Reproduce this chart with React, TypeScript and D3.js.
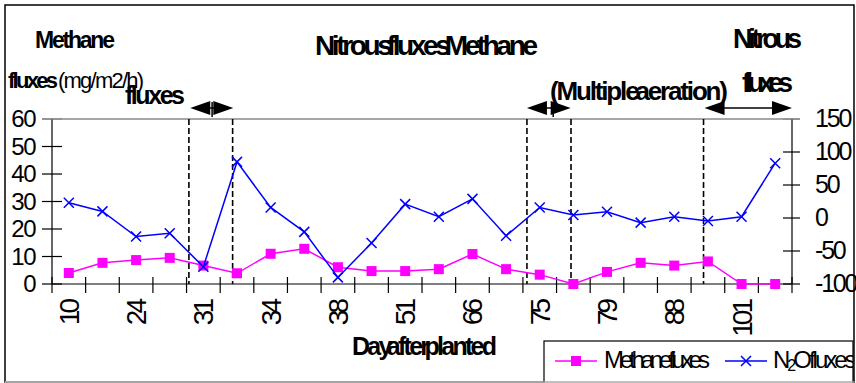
import React from 'react';
import * as d3 from 'd3';

const W = 856;
const H = 383;

// 22 sampling points (only every other one labelled on the axis)
const pointCount = 22;
const dayLabels = ["10", "24", "31", "34", "38", "51", "66", "75", "79", "88", "101"];
const methaneFlux = [4, 7.7, 8.7, 9.5, 6.7, 3.9, 11, 12.8, 6.1, 4.7, 4.7, 5.4, 10.9, 5.4, 3.4, 0, 4.4, 7.7, 6.7, 8.2, 0, 0];
const n2oFlux = [23, 10, -28, -23, -74, 85, 16, -21, -90, -38, 21, 2, 29, -27, 16, 4.5, 9.6, -7, 2, -4.5, 2, 83];
const leftTicks = [0, 10, 20, 30, 40, 50, 60];
const rightTicks = [-100, -50, 0, 50, 100, 150];
// annotation positions in point-index units
const phaseLines = [4.07, 5.37, 14.12, 15.43, 19.37];
const arrowFrom = [4.11, 14.12, 19.4];
const arrowTo = [5.39, 15.42, 22.0];
const arrowMid = [4.76, 14.9, -1];

const FONT = '"Liberation Sans", Arial, sans-serif';

export default function App() {
  const left = 52, right = 792, top = 119, bottom = 284;
  const x = d3.scaleLinear().domain([0, pointCount]).range([left, right]);
  const yL = d3.scaleLinear().domain([0, 60]).range([bottom, top]);
  const yR = d3.scaleLinear().domain([-100, 150]).range([bottom, top]);
  const idx = d3.range(pointCount);
  const cx = (i: number) => x(i + 0.5);

  const methLine = d3.line<number>().x((_, i) => cx(i)).y(d => yL(d))(methaneFlux) || '';
  const n2oLine = d3.line<number>().x((_, i) => cx(i)).y(d => yR(d))(n2oFlux) || '';

  const ay = 108, hw = 20, hh = 7;

  return (
    <svg width={W} height={H} style={{ position: 'absolute', left: 0, top: 0, background: '#fff' }}
      fontFamily={FONT}>
      <defs>
        <clipPath id="legclip"><rect x={544} y={341} width={309} height={42} /></clipPath>
      </defs>
      <rect x={0} y={0} width={W} height={H} fill="#fff" />
      {/* frame */}
      <rect x={5} y={5} width={849} height={377} fill="none" stroke="#000" strokeWidth={1.5} />
      <line x1={5} x2={854} y1={382} y2={382} stroke="#aaa" strokeWidth={1.5} />

      {/* titles */}
      <text x={35} y={48} fontSize={23} fontWeight="bold" textLength={80} lengthAdjust="spacing">Methane</text>
      <text x={8} y={88} fontSize={22} fontWeight="bold" textLength={50} lengthAdjust="spacing">fluxes</text>
      <text x={58} y={88} fontSize={22} textLength={86} lengthAdjust="spacing">(mg/m2/h)</text>
      <text x={125} y={104} fontSize={25} fontWeight="bold" textLength={60} lengthAdjust="spacing">fluxes</text>
      <text x={315} y={55} fontSize={28} fontWeight="bold" textLength={223} lengthAdjust="spacing" wordSpacing={-7}>Nitrous fluxes Methane</text>
      <text x={550} y={100} fontSize={26} fontWeight="bold" textLength={178} lengthAdjust="spacing" wordSpacing={-7}>(Multiple aeration)</text>
      <text x={733} y={48} fontSize={27} fontWeight="bold" textLength={69} lengthAdjust="spacing">Nitrous</text>
      <text x={742} y={92} fontSize={27} fontWeight="bold" textLength={51} lengthAdjust="spacing">fluxes</text>

      {/* arrows */}
      {arrowFrom.map((f, k) => {
        const a = x(f), b = x(arrowTo[k]);
        return (
          <g key={'ar' + k} fill="#000" stroke="#000">
            <line x1={a + hw - 1} x2={b - hw + 1} y1={ay} y2={ay} strokeWidth={1.5} />
            <polygon points={`${a},${ay} ${a + hw},${ay - hh} ${a + hw},${ay + hh}`} stroke="none" />
            <polygon points={`${b},${ay} ${b - hw},${ay - hh} ${b - hw},${ay + hh}`} stroke="none" />
            {arrowMid[k] >= 0 && (
              <line x1={x(arrowMid[k])} x2={x(arrowMid[k])} y1={ay - 6} y2={ay + 9} strokeWidth={1.5} />
            )}
          </g>
        );
      })}

      {/* top gray border of plot */}
      <line x1={42} x2={800} y1={top} y2={top} stroke="#888" strokeWidth={1.5} />

      {/* phase dashed lines */}
      {phaseLines.map((p, k) => (
        <line key={'pl' + k} x1={x(p)} x2={x(p)} y1={top} y2={bottom} stroke="#000"
          strokeWidth={1.6} strokeDasharray="6,3" />
      ))}

      {/* axes */}
      <line x1={left} x2={left} y1={top} y2={bottom} stroke="#000" strokeWidth={1.2} />
      <line x1={right} x2={right} y1={top} y2={bottom} stroke="#000" strokeWidth={1.2} />
      <line x1={left} x2={right} y1={bottom} y2={bottom} stroke="#000" strokeWidth={1.2} />

      {leftTicks.map(t => (
        <g key={'lt' + t}>
          <line x1={42} x2={62} y1={yL(t)} y2={yL(t)} stroke={t === 60 ? '#888' : '#000'} strokeWidth={1.2} />
          <text x={35} y={yL(t) + 8} fontSize={24} textAnchor="end" letterSpacing={-1.5}>{t}</text>
        </g>
      ))}
      {rightTicks.map(t => (
        <g key={'rt' + t}>
          <line x1={783} x2={800} y1={yR(t)} y2={yR(t)} stroke={t === 150 ? '#888' : '#000'} strokeWidth={1.2} />
          <text x={815} y={yR(t) + 8} fontSize={25} letterSpacing={-2.2}>{t}</text>
        </g>
      ))}
      {d3.range(pointCount + 1).map(i => (
        <line key={'xt' + i} x1={x(i)} x2={x(i)} y1={277} y2={293} stroke="#000" strokeWidth={1.2} />
      ))}
      {dayLabels.map((lab, k) => {
        const px = cx(k * 2) + 10;
        const py = 302;
        return (
          <text key={'xl' + k} transform={`translate(${px},${py}) rotate(-90)`} fontSize={28}
            textAnchor="end" letterSpacing={-4}>{lab}</text>
        );
      })}
      <text x={352} y={355} fontSize={25} fontWeight="bold" textLength={145} lengthAdjust="spacing" wordSpacing={-7}>Day after planted</text>

      {/* series */}
      <path d={methLine} fill="none" stroke="#ff00ff" strokeWidth={1.5} />
      {idx.map(i => (
        <rect key={'m' + i} x={cx(i) - 5} y={yL(methaneFlux[i]) - 5} width={10} height={10} fill="#ff00ff" />
      ))}
      <path d={n2oLine} fill="none" stroke="#0000ff" strokeWidth={1.5} />
      {idx.map(i => {
        const X = cx(i), Y = yR(n2oFlux[i]);
        return (
          <path key={'n' + i} d={`M${X - 5},${Y - 5}L${X + 5},${Y + 5}M${X - 5},${Y + 5}L${X + 5},${Y - 5}`}
            stroke="#0000ff" strokeWidth={1.5} fill="none" />
        );
      })}

      {/* legend */}
      <rect x={544} y={341} width={309} height={50} fill="#fff" stroke="#000" strokeWidth={1.2} />
      <line x1={5} x2={854} y1={382} y2={382} stroke="#aaa" strokeWidth={1.5} />
      <g clipPath="url(#legclip)">
        <line x1={555} x2={597} y1={361} y2={361} stroke="#ff00ff" strokeWidth={1.5} />
        <rect x={571} y={356} width={10} height={10} fill="#ff00ff" />
        <text x={604} y={368} fontSize={24} textLength={106} lengthAdjust="spacing">Methanefluxes</text>
        <line x1={725} x2={767} y1={361} y2={361} stroke="#0000ff" strokeWidth={1.5} />
        <path d="M741,356L751,366M741,366L751,356" stroke="#0000ff" strokeWidth={1.5} />
        <text x={773} y={368} fontSize={24} letterSpacing={-3}>N<tspan fontSize={16} dy={3}>2</tspan><tspan dy={-3}>Ofluxes</tspan></text>
      </g>
    </svg>
  );
}
